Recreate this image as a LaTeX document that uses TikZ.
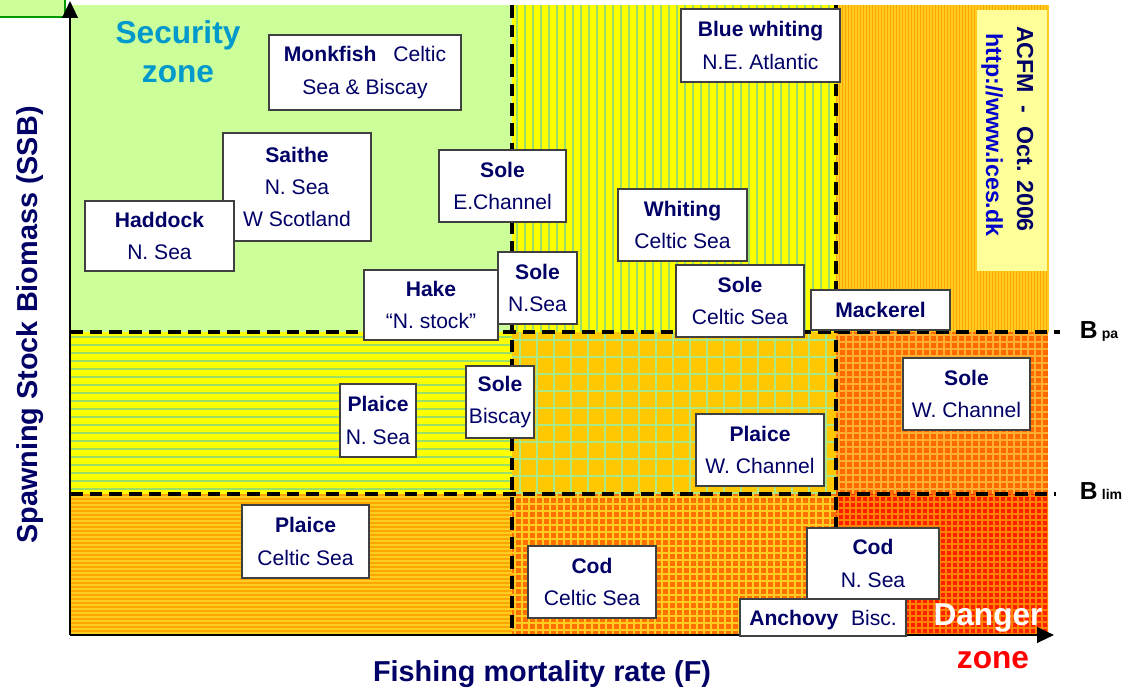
\documentclass[tikz,border=0pt]{standalone}
\usepackage{fontspec}
\setmainfont{Liberation Sans}
\usetikzlibrary{arrows.meta,fit,positioning}

\definecolor{navy}{HTML}{000066}
\definecolor{secblue}{HTML}{0099CC}
\definecolor{lgreen}{HTML}{CCFF99}
\definecolor{sgreen}{HTML}{99E066}
\definecolor{yel}{HTML}{FFFF00}
\definecolor{gold}{HTML}{FFC800}
\definecolor{amber}{HTML}{FFA500}
\definecolor{lamber}{HTML}{FFCC22}
\definecolor{dorange}{HTML}{FF6A00}
\definecolor{lorange}{HTML}{FFB030}
\definecolor{dred}{HTML}{FF2000}
\definecolor{pyellow}{HTML}{FFFF99}
\definecolor{linkblue}{HTML}{0000CC}

\begin{document}
\begin{tikzpicture}[x=0.025cm,y=-0.025cm,
    stock/.style={draw=black!75,line width=1pt,fill=white,inner sep=0pt},
    stocktext/.style={align=center,text=navy,inner sep=0pt,
      font=\fontsize{15}{23}\selectfont},
    reflim/.style={line width=2.5pt,dash pattern=on 9pt off 5pt},
    zone/.style={font=\fontsize{22.5}{28}\selectfont\bfseries,align=center},
    axlabel/.style={font=\fontsize{20.5}{24}\selectfont\bfseries,text=navy}]
  \useasboundingbox (0,0) rectangle (1140,688);

  % corner box
  \draw[fill=lgreen,draw=green!60!black,line width=1pt] (-5,-5) rectangle (65,17);

  % top row
  \fill[lgreen] (70,5) rectangle (512,332);
  \fill[yel] (512,5) rectangle (836,332);
  \foreach \x in {517,525,...,836}
    \draw[sgreen,line width=1.3pt] (\x,5) -- (\x,332);
  \fill[amber] (836,5) rectangle (1048,332);
  \foreach \x in {838,841,...,1048}
    \draw[lamber,line width=0.8pt] (\x,5) -- (\x,332);

  % middle row
  \fill[yel] (70,332) rectangle (512,494);
  \foreach \y in {337,345,...,494}
    \draw[sgreen,line width=1.3pt] (70,\y) -- (512,\y);
  \fill[gold] (512,332) rectangle (836,494);
  \begin{scope}
    \clip (512,332) rectangle (836,494);
    \foreach \x in {520,537,...,836}
      \draw[sgreen!80,line width=1.4pt] (\x,332) -- (\x,494);
    \foreach \y in {340,357,...,494}
      \draw[sgreen!80,line width=1.4pt] (512,\y) -- (836,\y);
  \end{scope}
  \fill[dorange] (836,332) rectangle (1048,494);
  \begin{scope}
    \clip (836,332) rectangle (1048,494);
    \foreach \x in {839,846,...,1048}
      \draw[lorange,line width=1.2pt] (\x,332) -- (\x,494);
    \foreach \y in {335,342,...,494}
      \draw[lorange,line width=1.2pt] (836,\y) -- (1048,\y);
  \end{scope}

  % bottom row
  \fill[amber] (70,494) rectangle (512,635);
  \foreach \y in {497,501,...,635}
    \draw[lamber,line width=0.9pt] (70,\y) -- (512,\y);
  \fill[dorange!90!amber] (512,494) rectangle (836,635);
  \begin{scope}
    \clip (512,494) rectangle (836,635);
    \foreach \x in {515,522,...,836}
      \draw[lamber,line width=1.2pt] (\x,494) -- (\x,635);
    \foreach \y in {497,504,...,635}
      \draw[lamber,line width=1.2pt] (512,\y) -- (836,\y);
  \end{scope}
  \fill[dred] (836,494) rectangle (1048,635);
  \begin{scope}
    \clip (836,494) rectangle (1048,635);
    \foreach \x in {838,844,...,1048}
      \draw[dorange!60!amber,line width=0.8pt] (\x,494) -- (\x,635);
    \foreach \y in {496,502,...,635}
      \draw[dorange!60!amber,line width=0.8pt] (836,\y) -- (1048,\y);
  \end{scope}

  % reference points
  \coordinate (bpaL) at (70,332);
  \coordinate (bpaR) at (1060,332);
  \coordinate (blimL) at (70,494);
  \coordinate (blimR) at (1056,494);
  \coordinate (fpaT) at (512,5);
  \coordinate (fpaB) at (512,635);
  \coordinate (flimT) at (836,5);
  \coordinate (flimB) at (836,635);
  \draw[reflim] (bpaL) -- (bpaR);
  \draw[reflim] (blimL) -- (blimR);
  \draw[reflim] (fpaT) -- (fpaB);
  \draw[reflim] (flimT) -- (flimB);

  % axes
  \coordinate (orig) at (70,635);
  \coordinate (ytop) at (70,1);
  \coordinate (xend) at (1054,635);
  \draw[line width=1.8pt,-{Triangle[length=12pt,width=11pt]}] (orig) -- (ytop);
  \draw[line width=1.8pt,-{Triangle[length=12pt,width=11pt]}] (orig) -- (xend);

  \node[axlabel] (xlab) at (542,674) {Fishing mortality rate (F)};
  \node[axlabel,rotate=90] (ylab) at (30,325) {Spawning Stock Biomass (SSB)};

  \node[font=\fontsize{17.5}{20}\selectfont\bfseries,anchor=base west] (bpa) at (1075,339) {B\,{\fontsize{10}{12}\selectfont pa}};
  \node[font=\fontsize{17.5}{20}\selectfont\bfseries,anchor=base west] (blim) at (1075,500) {B\,{\fontsize{10}{12}\selectfont lim}};

  % zones
  \node[zone,text=secblue] (secz) at (178,52) {Security\\zone};
  \node[zone,text=white] (dang) at (988,618) {Danger};
  \node[zone,text=red] (dangz) at (993,660) {zone};

  % ACFM box
  \node[fill=pyellow,inner sep=0pt,fit={(977,10) (1047,271)}] (acfm) {};
  \node[rotate=-90,text=navy,font=\fontsize{16.5}{20}\selectfont\bfseries] (acfmt) at (1025,129) {ACFM\ \ -\ \ Oct. 2006};
  \node[rotate=-90,text=linkblue,font=\fontsize{16.5}{20}\selectfont\bfseries] (icest) at (992,135) {http://www.ices.dk};

  % stocks
  \node[stock,fit={(269,35) (461,110)}] (monk) {};
  \node[stocktext] (monkt) at (monk.center) {\textbf{Monkfish}\hspace{0.8em}Celtic\\Sea \& Biscay};
  \node[stock,fit={(223,133) (371,241)}] (saithe) {};
  \node[stocktext] (saithet) at (saithe.center) {\textbf{Saithe}\\N. Sea\\W Scotland};
  \node[stock,fit={(85,201) (234,271)}] (haddock) {};
  \node[stocktext] (haddockt) at (haddock.center) {\textbf{Haddock}\\N. Sea};
  \node[stock,fit={(439,150) (566,222)}] (soleec) {};
  \node[stocktext] (soleect) at (soleec.center) {\textbf{Sole}\\E.Channel};
  \node[stock,fit={(364,270) (498,340)}] (hake) {};
  \node[stocktext] (haket) at (hake.center) {\textbf{Hake}\\“N. stock”};
  \node[stock,fit={(498,252) (577,324)}] (solens) {};
  \node[stocktext] (solenst) at (solens.center) {\textbf{Sole}\\N.Sea};
  \node[stock,fit={(681,9) (840,82)}] (bluew) {};
  \node[stocktext] (bluewt) at (bluew.center) {\textbf{Blue whiting}\\N.E. Atlantic};
  \node[stock,fit={(618,189) (747,261)}] (whiting) {};
  \node[stocktext] (whitingt) at (whiting.center) {\textbf{Whiting}\\Celtic Sea};
  \node[stock,fit={(676,265) (804,337)}] (solecs) {};
  \node[stocktext] (solecst) at (solecs.center) {\textbf{Sole}\\Celtic Sea};
  \node[stock,fit={(811,290) (950,330)}] (mack) {};
  \node[stocktext] (mackt) at (mack.center) {\textbf{Mackerel}};
  \node[stock,fit={(340,384) (416,457)}] (plaicens) {};
  \node[stocktext] (plaicenst) at (plaicens.center) {\textbf{Plaice}\\N. Sea};
  \node[stock,fit={(466,366) (534,438)}] (solebi) {};
  \node[stocktext] (solebit) at (solebi.center) {\textbf{Sole}\\Biscay};
  \node[stock,fit={(696,414) (824,486)}] (plaicewc) {};
  \node[stocktext] (plaicewct) at (plaicewc.center) {\textbf{Plaice}\\W. Channel};
  \node[stock,fit={(903,358) (1030,430)}] (solewc) {};
  \node[stocktext] (solewct) at (solewc.center) {\textbf{Sole}\\W. Channel};
  \node[stock,fit={(242,505) (369,578)}] (plaicecs) {};
  \node[stocktext] (plaicecst) at (plaicecs.center) {\textbf{Plaice}\\Celtic Sea};
  \node[stock,fit={(528,546) (656,618)}] (codcs) {};
  \node[stocktext] (codcst) at (codcs.center) {\textbf{Cod}\\Celtic Sea};
  \node[stock,fit={(807,528) (939,599)}] (codns) {};
  \node[stocktext] (codnst) at (codns.center) {\textbf{Cod}\\N. Sea};
  \node[stock,fit={(740,599) (906,636)}] (anch) {};
  \node[stocktext] (ancht) at ([yshift=-1.5pt]anch.center) {\textbf{Anchovy}\hspace{0.6em}Bisc.};
\end{tikzpicture}
\end{document}
